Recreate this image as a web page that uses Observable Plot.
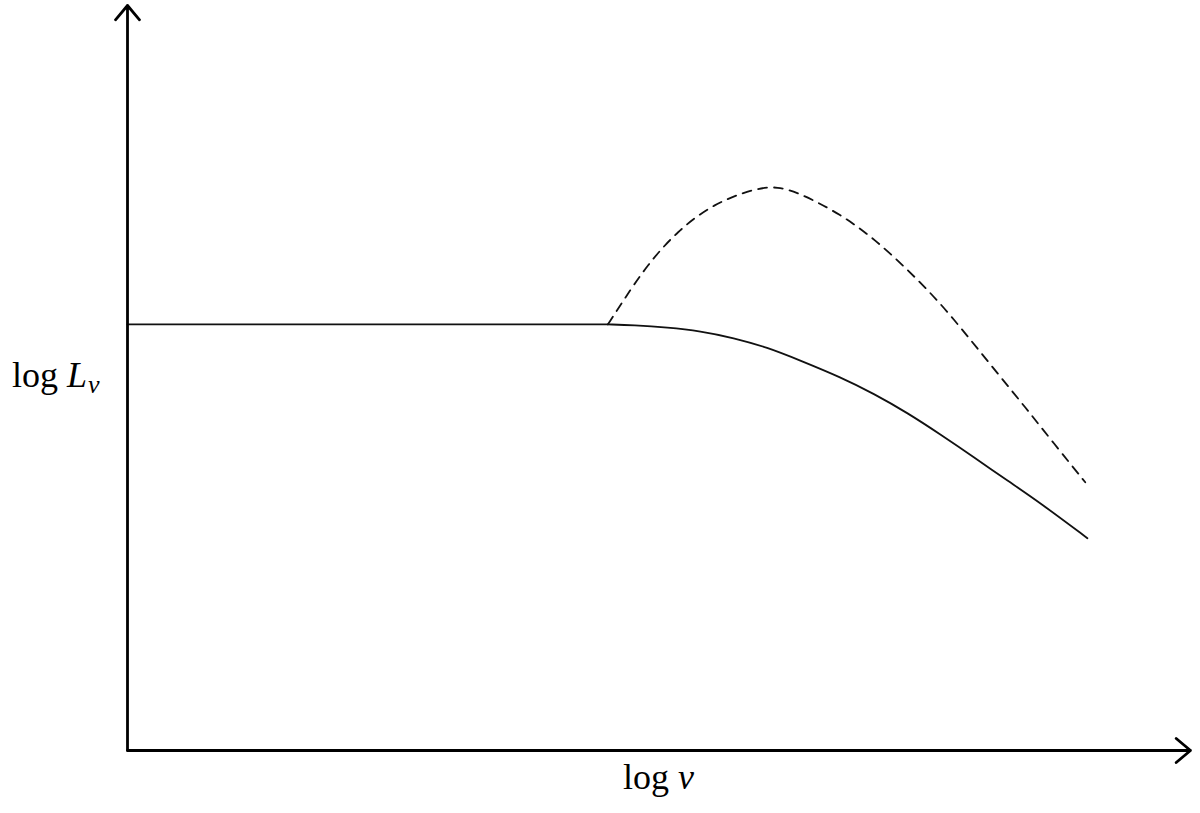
<!DOCTYPE html>
<html>
<head>
<meta charset="utf-8">
<script src="https://cdn.jsdelivr.net/npm/d3@7"></script>
<script src="https://cdn.jsdelivr.net/npm/@observablehq/plot@0.6"></script>
<style>
  html, body { margin: 0; padding: 0; background: #fff; }
  #chart svg { display: block; }
</style>
</head>
<body>
<div id="chart"></div>
<script>
// Abstract log units (no tick labels in the original sketch)
const flatX = [0, 4.52];
const flatY = [5.72, 5.72];

const solidX = [4.52, 4.76, 5.08, 5.39, 5.70, 6.02, 6.32, 6.71, 7.02, 7.34, 7.65, 7.96, 8.28, 8.59, 9.03];
const solidY = [5.72, 5.71, 5.68, 5.63, 5.54, 5.41, 5.24, 5.01, 4.79, 4.53, 4.24, 3.94, 3.62, 3.32, 2.85];

const dashX = [4.52, 4.66, 4.89, 5.17, 5.51, 5.91, 6.12, 6.31, 6.71, 7.04, 7.35, 7.65, 7.91, 8.18, 8.45, 8.71, 9.01];
const dashY = [5.72, 6.03, 6.52, 6.97, 7.34, 7.55, 7.57, 7.49, 7.20, 6.85, 6.44, 6.00, 5.55, 5.07, 4.60, 4.13, 3.60];

const xLabel = "log ν";
const yLabelMain = "log ";
const yLabelVar = "L";
const yLabelSub = "ν";

const flat = flatX.map((x, i) => ({x, y: flatY[i]}));
const solid = solidX.map((x, i) => ({x, y: solidY[i]}));
const dashed = dashX.map((x, i) => ({x, y: dashY[i]}));

const plot = Plot.plot({
  width: 1200,
  height: 813,
  marginLeft: 127,
  marginRight: 10,
  marginTop: 5,
  marginBottom: 63,
  x: {domain: [0, 10], axis: null},
  y: {domain: [0, 10], axis: null},
  style: {background: "#fff"},
  marks: [
    Plot.line(flat, {x: "x", y: "y", stroke: "#111", strokeWidth: 1.8}),
    Plot.line(solid, {x: "x", y: "y", stroke: "#111", strokeWidth: 1.8, curve: "basis"}),
    Plot.line(dashed, {x: "x", y: "y", stroke: "#111", strokeWidth: 1.8, strokeDasharray: "9,7", curve: "basis"}),
    Plot.arrow([{x1: 0, y1: 0, x2: 10, y2: 0}], {x1: "x1", y1: "y1", x2: "x2", y2: "y2", stroke: "#000", strokeWidth: 2.8, headLength: 10, headAngle: 80}),
    Plot.arrow([{x1: 0, y1: 0, x2: 0, y2: 10}], {x1: "x1", y1: "y1", x2: "x2", y2: "y2", stroke: "#000", strokeWidth: 2.8, headLength: 10, headAngle: 80})
  ]
});

const svg = d3.select(plot);
const sx = plot.scale("x"), sy = plot.scale("y");
const font = "'Liberation Serif', 'DejaVu Serif', serif";

// x-axis label
const xl = svg.append("text")
  .attr("x", sx.apply(5)).attr("y", 789)
  .attr("text-anchor", "middle")
  .attr("font-family", font).attr("font-size", 36).attr("fill", "#000");
xl.append("tspan").text(xLabel.split(" ")[0] + " ");
xl.append("tspan").attr("font-style", "italic").text(xLabel.split(" ")[1]);

// y-axis label
const yl = svg.append("text")
  .attr("x", 12).attr("y", 387)
  .attr("text-anchor", "start")
  .attr("font-family", font).attr("font-size", 36).attr("fill", "#000");
yl.append("tspan").text(yLabelMain);
yl.append("tspan").attr("font-style", "italic").text(yLabelVar);
yl.append("tspan").attr("font-style", "italic").attr("font-size", 26).attr("dy", 6).attr("dx", 1).text(yLabelSub);

document.getElementById("chart").appendChild(plot);
</script>
</body>
</html>
